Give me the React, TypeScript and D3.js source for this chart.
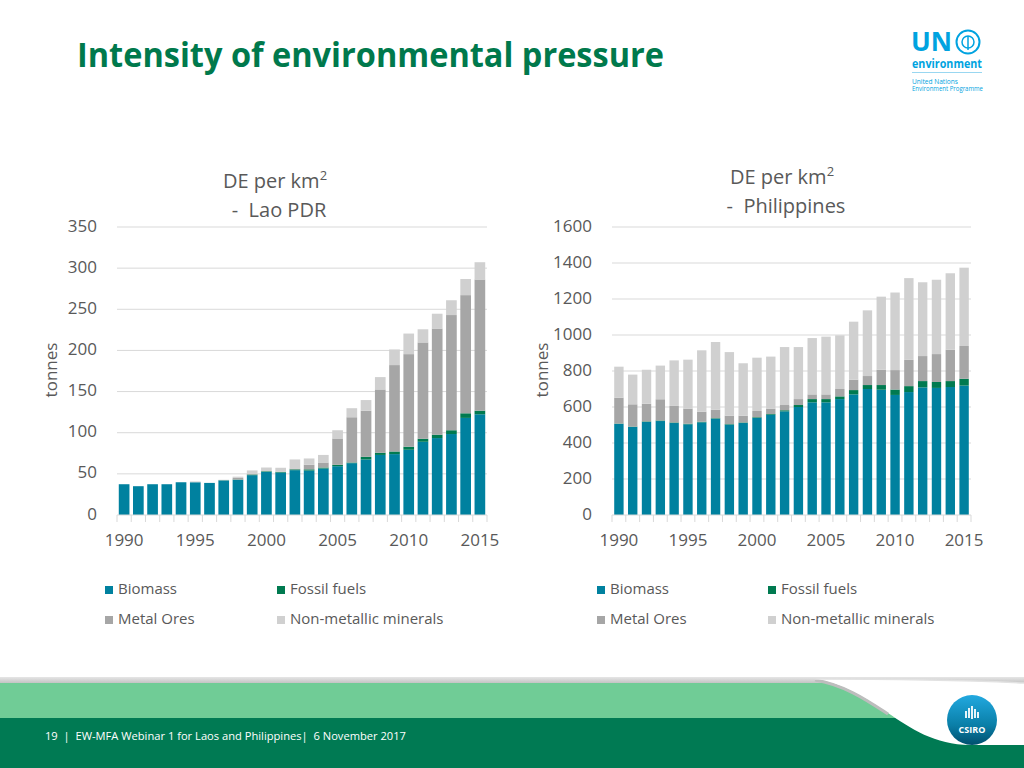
import React from 'react'
import * as d3 from 'd3'

const years = [
  1990, 1991, 1992, 1993, 1994, 1995, 1996, 1997, 1998, 1999, 2000, 2001, 2002,
  2003, 2004, 2005, 2006, 2007, 2008, 2009, 2010, 2011, 2012, 2013, 2014, 2015,
]
const labelYears = [1990, 1995, 2000, 2005, 2010, 2015]

const seriesNames = ['Biomass', 'Fossil fuels', 'Metal Ores', 'Non-metallic minerals']
const seriesColors = ['#00819F', '#007A50', '#A6A6A6', '#D0D0D0']

// Lao PDR, tonnes per km2
const laoBiomass = [37.4, 35, 37.4, 37.4, 39.8, 39.8, 39, 42, 42.7, 48.4, 52.4, 51.6, 54.5, 54, 56.5, 59.3, 63, 67.5, 73, 74, 79.3, 89, 93.5, 98.4, 118, 122.4]
const laoFossil = [0, 0, 0, 0, 0, 0, 0, 0.3, 0.4, 0.8, 0.8, 0.8, 1, 1.5, 1.2, 1.7, 0.8, 3.2, 2.6, 3.2, 3.7, 3.7, 4.1, 4.6, 5.6, 4.4]
const laoMetal = [0, 0, 0, 0, 0, 0, 0, 0, 2, 0.5, 0, 0, 1, 5.5, 6.1, 32, 55, 56, 77, 105, 112.5, 117, 129, 140, 143.6, 159.4]
const laoNonMetal = [0, 0, 0, 0, 0, 1, 0, 0.5, 1.5, 4.5, 4.5, 5, 11, 7.7, 9.2, 10, 11, 13, 15, 19, 25, 16, 18, 18, 19.6, 21]
const laoTicks = [0, 50, 100, 150, 200, 250, 300, 350]

// Philippines, tonnes per km2
const phBiomass = [506, 489, 517, 522, 511, 504, 515, 535, 502, 511, 539, 557, 576, 600, 626, 626, 644, 670, 700, 696, 667, 683, 709, 706, 711, 719]
const phFossil = [2, 2, 3, 3, 3, 3, 3, 3, 3, 3, 4, 4, 6, 11, 18, 18, 15, 24, 22, 26, 30, 33, 35, 33, 33, 38]
const phMetal = [144, 124, 98, 118, 92, 84, 56, 47, 47, 38, 35, 30, 29, 33, 26, 26, 41, 58, 50, 85, 108, 146, 139, 155, 174, 182]
const phNonMetal = [172, 165, 189, 187, 253, 272, 341, 376, 353, 291, 296, 289, 322, 289, 313, 321, 298, 322, 365, 406, 431, 454, 410, 413, 425, 435]
const phTicks = [0, 200, 400, 600, 800, 1000, 1200, 1400, 1600]

const FONT = "'Open Sans', 'Noto Sans', sans-serif"
const TEXT = '#595959'
const GRID = '#D9D9D9'

interface ChartProps {
  series: number[][]
  ticks: number[]
  left: number
  right: number
  padding: number
  country: string
  titleX: number
  titleY: number
  tonnesX: number
  legendX: [number, number]
}

const StackedChart: React.FC<ChartProps> = ({
  series, ticks, left, right, padding, country, titleX, titleY, tonnesX, legendX,
}) => {
  const top = 227
  const bottom = 515
  const x = d3.scaleBand<number>().domain(years).range([left, right]).paddingInner(padding).paddingOuter(padding / 2)
  const y = d3.scaleLinear().domain([0, ticks[ticks.length - 1]]).range([bottom, top])
  const rows = years.map((yr, i) => {
    const r: any = { year: yr }
    seriesNames.forEach((k, j) => (r[k] = series[j][i]))
    return r
  })
  const stacked = d3.stack<any>().keys(seriesNames)(rows)
  const step = x.step()

  return (
    <g fontFamily={FONT}>
      <text x={titleX} y={titleY} textAnchor="middle" fontSize={20} fill={TEXT}>
        DE per km<tspan fontSize={13} dy={-8}>2</tspan>
      </text>
      <text x={titleX + 4} y={titleY + 29} textAnchor="middle" fontSize={20} fill={TEXT} xmlSpace="preserve">
        {'-  ' + country}
      </text>
      <text
        transform={`translate(${tonnesX},370) rotate(-90)`}
        textAnchor="middle"
        dominantBaseline="middle"
        fontSize={17}
        fill={TEXT}
      >
        tonnes
      </text>
      {ticks.map((t) => (
        <g key={t}>
          {t > 0 && <line x1={left} x2={right} y1={y(t)} y2={y(t)} stroke={GRID} strokeWidth={1} />}
          <text x={left - 20} y={y(t)} textAnchor="end" dominantBaseline="middle" fontSize={17} fill={TEXT}>
            {t}
          </text>
        </g>
      ))}
      {stacked.map((s, si) => (
        <g key={s.key} fill={seriesColors[si]}>
          {s.map((d) => (
            <rect
              key={d.data.year}
              x={x(d.data.year)}
              width={x.bandwidth()}
              y={y(d[1])}
              height={Math.max(0, y(d[0]) - y(d[1]))}
            />
          ))}
        </g>
      ))}
      <line x1={left} x2={right} y1={bottom} y2={bottom} stroke={GRID} strokeWidth={1} />
      {d3.range(years.length + 1).map((i) => (
        <line key={i} x1={left + i * step} x2={left + i * step} y1={bottom} y2={bottom + 7} stroke={GRID} strokeWidth={1} />
      ))}
      {labelYears.map((yr) => (
        <text key={yr} x={x(yr)! + x.bandwidth() / 2} y={541} textAnchor="middle" dominantBaseline="middle" fontSize={17} fill={TEXT}>
          {yr}
        </text>
      ))}
      {seriesNames.map((name, i) => {
        const lx = legendX[i % 2]
        const ly = i < 2 ? 590 : 620
        return (
          <g key={name}>
            <rect x={lx} y={ly - 4} width={8} height={8} fill={seriesColors[i]} />
            <text x={lx + 13} y={ly} dominantBaseline="middle" fontSize={15} fill={TEXT}>
              {name}
            </text>
          </g>
        )
      })}
    </g>
  )
}

const App: React.FC = () => {
  return (
    <svg width={1024} height={768} style={{ position: 'absolute', left: 0, top: 0, background: '#fff' }}>
      <defs>
        <linearGradient id="csiro" x1="0" y1="0" x2="0" y2="1">
          <stop offset="0" stopColor="#22A9E0" />
          <stop offset="0.6" stopColor="#0A7FA8" />
          <stop offset="1" stopColor="#004F6E" />
        </linearGradient>
        <linearGradient id="shade" x1="0" y1="0" x2="0" y2="1">
          <stop offset="0" stopColor="#E6E6E6" />
          <stop offset="1" stopColor="#B8B8B8" />
        </linearGradient>
      </defs>

      <text x={77} y={67} fontFamily={FONT} fontWeight="bold" fontSize={34} fill="#00794C" textLength={587} lengthAdjust="spacingAndGlyphs">
        Intensity of environmental pressure
      </text>

      {/* UN environment logo */}
      <g fontFamily={FONT} fill="#00A3E0">
        <text x={911} y={51} fontWeight="bold" fontSize={26} textLength={41} lengthAdjust="spacingAndGlyphs">UN</text>
        <circle cx={968} cy={42} r={11.5} fill="none" stroke="#00A3E0" strokeWidth={2} />
        <circle cx={968} cy={42} r={6} fill="none" stroke="#00A3E0" strokeWidth={1.5} />
        <line x1={968} y1={36} x2={968} y2={50} stroke="#00A3E0" strokeWidth={1.5} />
        <text x={912} y={68} fontWeight="bold" fontSize={13} textLength={70} lengthAdjust="spacingAndGlyphs">environment</text>
        <line x1={912} x2={982} y1={72.5} y2={72.5} stroke="#7FCDEE" strokeWidth={0.8} />
        <text x={912} y={84} fontSize={6.5} textLength={46} lengthAdjust="spacingAndGlyphs">United Nations</text>
        <text x={912} y={91} fontSize={6.5} textLength={71} lengthAdjust="spacingAndGlyphs">Environment Programme</text>
      </g>

      <StackedChart
        series={[laoBiomass, laoFossil, laoMetal, laoNonMetal]}
        ticks={laoTicks}
        left={117}
        right={487}
        padding={0.25}
        country="Lao PDR"
        titleX={275}
        titleY={188}
        tonnesX={52}
        legendX={[105, 277]}
      />
      <StackedChart
        series={[phBiomass, phFossil, phMetal, phNonMetal]}
        ticks={phTicks}
        left={612}
        right={971}
        padding={0.32}
        country="Philippines"
        titleX={782}
        titleY={184}
        tonnesX={543}
        legendX={[597, 768]}
      />

      {/* footer band */}
      <rect x={0} y={677} width={1024} height={8} fill="url(#shade)" />
      <rect x={0} y={683} width={1024} height={36} fill="#70CC96" />
      <rect x={0} y={718} width={1024} height={50} fill="#007A53" />
      <path
        d="M815,679 C845,684 868,700 888,713 C910,728 935,745 970,745 L1024,745 L1024,683 C960,680 880,679 815,679 Z"
        fill="#FFFFFF"
      />
      <path d="M815,680 C845,685 868,701 888,714" fill="none" stroke="#BDBDBD" strokeWidth={3} />
      <path d="M815,679 C880,679 960,680 1024,683" fill="none" stroke="#E2E2E2" strokeWidth={1.5} />
      <text x={45} y={740} fontFamily={FONT} fontSize={11} fill="#FFFFFF" textLength={361} lengthAdjust="spacingAndGlyphs" xmlSpace="preserve">
        19  |  EW-MFA Webinar 1 for Laos and Philippines|  6 November 2017
      </text>

      {/* CSIRO logo */}
      <circle cx={972} cy={720} r={25} fill="url(#csiro)" />
      <g fill="#FFFFFF">
        {[-6, -3, 0, 3, 6].map((dx, i) => (
          <rect key={dx} x={972 + dx - 0.9} y={706 + [5, 2, 0, 3, 6][i]} width={1.8} height={[7, 10, 13, 9, 6][i]} />
        ))}
      </g>
      <text x={972} y={733} textAnchor="middle" fontFamily={FONT} fontWeight="bold" fontSize={9} fill="#FFFFFF">
        CSIRO
      </text>
    </svg>
  )
}

export default App
